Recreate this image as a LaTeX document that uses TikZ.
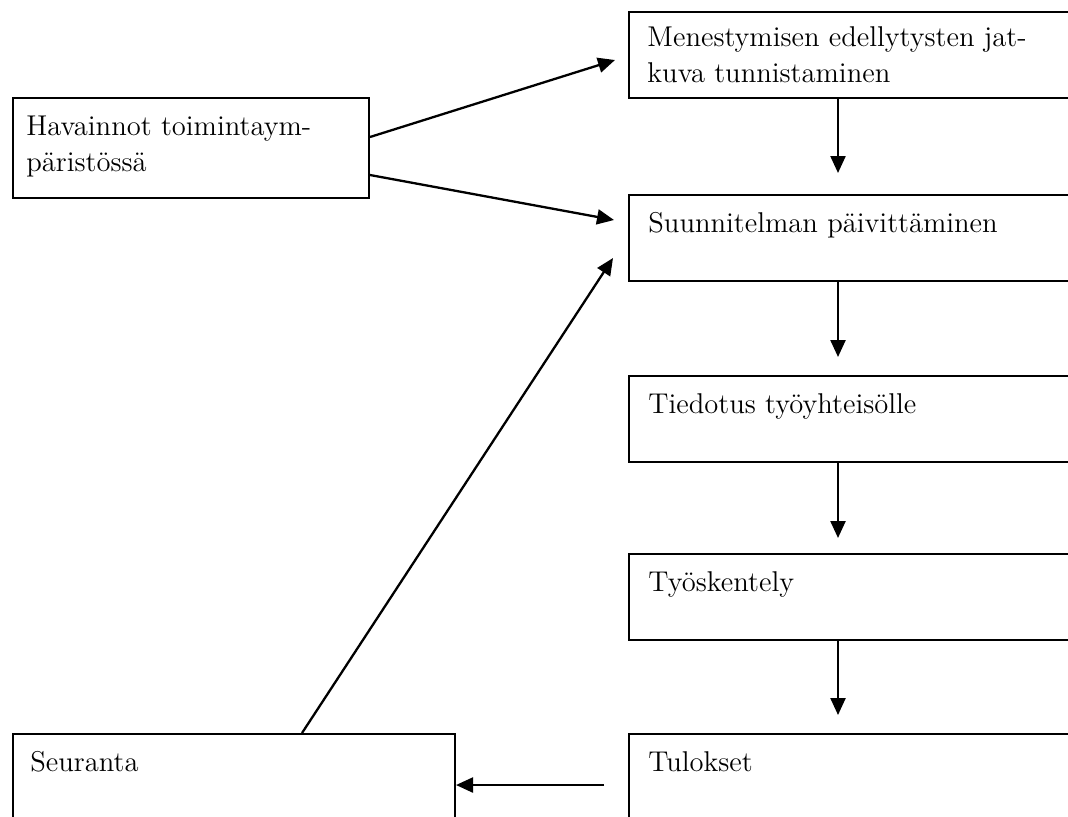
\documentclass[tikz,border=0pt]{standalone}
\usepackage{fontspec}
\usetikzlibrary{arrows.meta,calc}
\begin{document}
\begin{tikzpicture}[x=0.5pt,y=-0.5pt,
  box/.style={draw, line width=1pt, rectangle, inner sep=0pt, anchor=north west},
  rbox/.style={box, minimum width=236pt, minimum height=43pt},
  txt/.style={anchor=base west, inner sep=0pt, font=\fontsize{14.3}{18}\selectfont},
  arr/.style={line width=1.15pt, -{Triangle[length=8.5pt,width=7.5pt]}}]
\useasboundingbox (0,0) rectangle (1068,816);
\clip (0,0) rectangle (1068,816);
\fill[white] (0,0) rectangle (1068,816);
% boxes
\node[rbox] (men) at (628,11) {};
\node[rbox] (suun) at (628,194) {};
\node[rbox] (tied) at (628,375) {};
\node[rbox] (tyo) at (628,553) {};
\node[rbox] (tul) at (628,733) {};
\node[box, minimum width=178pt, minimum height=50pt] (hav) at (12,97) {};
\node[box, minimum width=221pt, minimum height=43pt] (seur) at (12,733) {};
% texts
\node[txt] (men-t) at ($(men.north west)+(19,35)$) {\parbox[t]{230pt}{Menestymisen edellytysten jat-\\kuva tunnistaminen}};
\node[txt] (suun-t) at ($(suun.north west)+(20,38)$) {Suunnitelman päivittäminen};
\node[txt] (tied-t) at ($(tied.north west)+(20,38)$) {Tiedotus työyhteisölle};
\node[txt] (tyo-t) at ($(tyo.north west)+(20,38)$) {Työskentely};
\node[txt] (tul-t) at ($(tul.north west)+(20,38)$) {Tulokset};
\node[txt] (hav-t) at ($(hav.north west)+(14,38)$) {\parbox[t]{170pt}{Havainnot toimintaym-\\päristössä}};
\node[txt] (seur-t) at ($(seur.north west)+(18,38)$) {Seuranta};
% connectors
\draw[arr] ($(hav.north east)+(0,40)$) -- ($(men.north west)+(-13,49)$);
\draw[arr] ($(hav.north east)+(0,78)$) -- ($(suun.north west)+(-14,26)$);
\draw[arr] ($(seur.north west)+(290,0)$) -- ($(suun.north west)+(-15,64)$);
\draw[arr] ($(men.south west)+(210,0)$) -- ($(suun.north west)+(210,-21)$);
\draw[arr] ($(suun.south west)+(210,0)$) -- ($(tied.north west)+(210,-18)$);
\draw[arr] ($(tied.south west)+(210,0)$) -- ($(tyo.north west)+(210,-15)$);
\draw[arr] ($(tyo.south west)+(210,0)$) -- ($(tul.north west)+(210,-18)$);
\draw[arr] ($(tul.north west)+(-24,52)$) -- ($(seur.north east)+(0,52)$);
\end{tikzpicture}
\end{document}
